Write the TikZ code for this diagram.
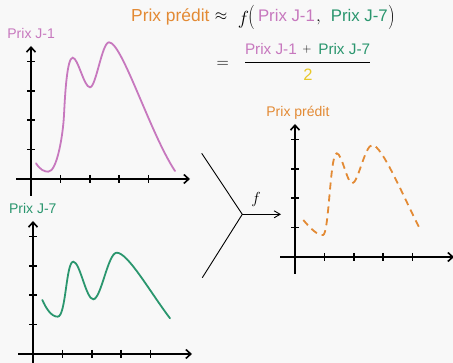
\RequirePackage{fix-cm}
\documentclass[tikz,border=0pt]{standalone}
\usepackage[no-math]{fontspec}
\setmainfont{Liberation Sans}
\usepackage{graphicx}
\usetikzlibrary{arrows.meta}
\definecolor{cOr}{HTML}{E38A34}
\definecolor{cPk}{HTML}{C778BE}
\definecolor{cGr}{HTML}{2A966E}
\definecolor{cYe}{HTML}{E8C828}
\definecolor{cBg}{HTML}{F8F8F8}
\tikzset{
  axisline/.style={line width=1.6pt,-{Straight Barb[length=5pt,width=9pt]}},
  tickline/.style={line width=1.6pt},
  plotline/.style={line width=1.8pt,line cap=round},
  lbl/.style={inner sep=0pt,anchor=base west,font=\fontsize{14}{16}\selectfont},
  bigtxt/.style={inner sep=0pt,anchor=base west,font=\fontsize{17.4}{20}\selectfont},
  midtxt/.style={inner sep=0pt,anchor=base west,font=\fontsize{16.8}{20}\selectfont},
  numtxt/.style={inner sep=0pt,anchor=base west,font=\fontsize{15.3}{18}\selectfont},
  plotaxes/.pic={
    \draw[axisline] (-15,0) -- (159,0);
    \draw[axisline] (0,17) -- (0,-133);
    \foreach \k in {1,...,4}{
      \draw[tickline] (29.4*\k,-4) -- (29.4*\k,4);
      \draw[tickline] (-4,-29.4*\k) -- (4,-29.4*\k);
    }
  }
}
\begin{document}
\begin{tikzpicture}[x=1pt,y=-1pt]
\fill[cBg] (0,0) rectangle (453,363);
\useasboundingbox (0,0) rectangle (453,363);

% ---- axes
\coordinate (o1) at (31,179);
\coordinate (o2) at (33,354);
\coordinate (o3) at (295,257);
\pic at (o1) {plotaxes};
\pic at (o2) {plotaxes};
\pic at (o3) {plotaxes};

% ---- axis labels
\node[lbl,text=cPk] (l1) at (7.2,39) {Prix J-1};
\node[lbl,text=cGr] (l2) at (8.9,214) {Prix J-7};
\node[lbl,text=cOr] (l3) at (266.2,117) {Prix prédit};

% ---- curves
\draw[plotline,cPk] (36,163.3) .. controls (40,169.5) and (44,171.7) .. (48.3,171.7)
  .. controls (57,171.7) and (63,135) .. (64,115)
  .. controls (65,95) and (67,57.7) .. (72.7,57.7)
  .. controls (78,57.7) and (84,87.3) .. (90,87.3)
  .. controls (96,87.3) and (102,42.3) .. (109,42.3)
  .. controls (122,42.3) and (150,133) .. (175,171);

\draw[plotline,cGr] (42.3,300) .. controls (46,308) and (51,316.7) .. (57.7,316.7)
  .. controls (66,316.7) and (66,261.7) .. (73.3,261.7)
  .. controls (80,261.7) and (86,299.3) .. (93.3,299.3)
  .. controls (101,299.3) and (108,252.7) .. (116.7,252.7)
  .. controls (128,252.7) and (150,292) .. (170,318.3);

\draw[plotline,cOr,line cap=butt,dash pattern=on 7pt off 5pt] (303.3,220)
  .. controls (310,228) and (318,236) .. (323,235)
  .. controls (329,235) and (330,153.3) .. (336.7,153.3)
  .. controls (342,153.3) and (347,183.3) .. (352.3,183.3)
  .. controls (358,183.3) and (365,145) .. (372.3,145)
  .. controls (382,145) and (405,200) .. (419.3,227.7);

% ---- function symbol
\coordinate (ya) at (201.7,153.3);
\coordinate (yj) at (242.3,214.3);
\coordinate (yb) at (202.3,277.7);
\coordinate (yt) at (281,214.3);
\draw[line width=0.9pt] (ya) -- (yj) -- (yb);
\draw[line width=0.9pt,-{Straight Barb[length=6pt,width=7pt]}] (yj) -- (yt);
\node[inner sep=0pt,font=\fontsize{16}{18}\selectfont] (fl) at (256,200) {$f$};

% ---- formula line 1
\node[bigtxt,text=cOr] (p0) at (131,22) {Prix prédit};
\node[inner sep=0pt,font=\fontsize{16}{18}\selectfont] (ap) at (221,16.7) {$\approx$};
\node[inner sep=0pt,anchor=base,font=\fontsize{19}{22}\selectfont] (ff) at (243.5,24.6) {$f$};
\node[inner sep=0pt,font=\fontsize{19}{22}\selectfont] (lp) at (251.5,17.2) {\scalebox{1}[1.28]{$($}};
\node[midtxt,text=cPk] (p1) at (257.8,22) {Prix J-1};
\node[inner sep=0pt,anchor=base west,font=\fontsize{17.4}{20}\selectfont] (cm) at (316,22) {$,$};
\node[midtxt,text=cGr] (p7) at (330.6,22) {Prix J-7};
\node[inner sep=0pt,font=\fontsize{19}{22}\selectfont] (rp) at (391.5,17.2) {\scalebox{1}[1.28]{$)$}};

% ---- formula line 2
\node[inner sep=0pt,font=\fontsize{17}{20}\selectfont] (eq) at (222.7,64.5) {$=$};
\node[numtxt,text=cPk] (n1) at (244.8,55) {Prix J-1};
\node[inner sep=0pt,font=\fontsize{12}{14}\selectfont] (pl) at (307,50) {$+$};
\node[numtxt,text=cGr] (n7) at (318.1,55) {Prix J-7};
\coordinate (fa) at (245.3,62.7);
\coordinate (fb) at (370,62.7);
\draw[line width=1pt] (fa) -- (fb);
\node[inner sep=0pt,anchor=base,text=cYe,font=\fontsize{16.5}{19}\selectfont] (two) at (308,80.5) {2};
\end{tikzpicture}
\end{document}
